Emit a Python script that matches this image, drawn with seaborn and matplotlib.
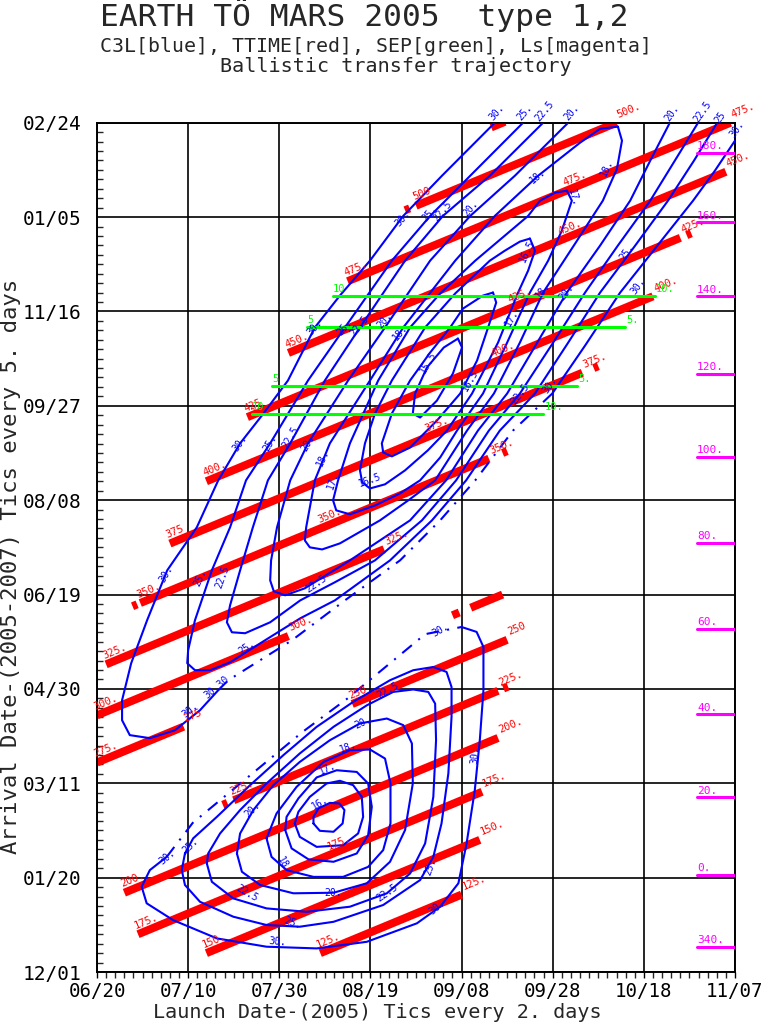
import numpy as np
import pandas as pd
import matplotlib
matplotlib.use("Agg")
import matplotlib.pyplot as plt
from matplotlib.ticker import MultipleLocator
import seaborn as sns

# ---------------- data (days since launch origin / arrival origin) ----------------
launch_origin = pd.Timestamp("2005-06-20")
arrival_origin = pd.Timestamp("2005-12-01")
offset = (arrival_origin - launch_origin).days

x_ticks = list(range(0, 141, 20))
y_ticks = list(range(0, 451, 50))
x_ticklabels = [(launch_origin + pd.Timedelta(days=d)).strftime("%m/%d") for d in x_ticks]
y_ticklabels = [(arrival_origin + pd.Timedelta(days=d)).strftime("%m/%d") for d in y_ticks]

# TTIME (time of flight, days) segments
tof_days = [125, 150, 175, 200, 225, 225, 225, 250, 275, 275, 275, 300, 325, 350, 350, 350,
            375, 375, 400, 425, 425, 450, 475, 500, 500, 525]
tof_launch_start = [49, 24, 9, 6, 30, 27.6, 89.2, 56, 78, 82, 0, 0, 2, 9.5, 7.8, 89.0,
                    16, 109.0, 24, 33, 129.4, 42, 55, 70, 67.6, 86.5]
tof_launch_end = [80, 84, 84.5, 88, 88, 28.6, 90.2, 90, 79.5, 89, 19, 42, 63, 86, 8.8, 90.0,
                  106.5, 110.0, 122, 128, 130.4, 138, 139, 114, 68.6, 89.5]
tof_start_label = ["125.", "150.", "175.", "200.", "225.", "", "", "250", "", "", "275.", "300.", "325.", "350.", "", "",
                   "375", "", "400.", "425", "", "450.", "475.", "500", "", ""]
tof_end_label = ["125.", "150.", "175.", "200.", "225.", "", "", "250", "", "", "275", "300.", "325.", "350.", "", "",
                 "375.", "", "400.", "425.", "", "450.", "475.", "500.", "", ""]
tof_mid_value = [350, 375, 400, 425, 450, 475, 175]
tof_mid_launch = [49, 72.4, 87, 90.6, 101.6, 102.7, 51]

# SEP (green)
sep_arrival = [358.0, 341.6, 310.7, 295.8]
sep_launch_start = [51.8, 46.1, 38.4, 34.0]
sep_launch_end = [122.4, 115.9, 105.3, 97.9]
sep_label = ["10", "5", "5", "10"]

# Ls of Mars at arrival (magenta)
ls_value = [180, 160, 140, 120, 100, 80, 60, 40, 20, 0, 340]
ls_arrival = [434.0, 397.2, 358.0, 317.0, 272.8, 227.5, 182.0, 136.6, 92.6, 51.4, 13.2]

# C3L contours, upper (type 2) family
up30a_x = [87.3, 75.7, 67.2, 59.9, 53.3, 47.8, 41.9, 36.2, 31.4, 26.6, 21.9, 15.4, 11.0, 7.5, 5.5, 5.5, 7.2, 11.6, 17.1, 22.6, 26.6]
up30a_y = [450, 421.9, 400.6, 376.9, 358.4, 341.5, 313.4, 294.9, 280.1, 260.5, 235.6, 212.8, 186.4, 163.6, 144.0, 133.4, 125.5, 123.9, 128.1, 138.7, 149.3]
up30b_x = [26.6, 28.8, 42.8, 54.4, 66.5, 75.3, 83.0, 91.3, 99.9]
up30b_y = [149.3, 154.6, 175.8, 196.9, 218.1, 239.3, 260.5, 286.9, 306.5]
up30c_x = [99.9, 107.1, 114.8, 130.8, 135.6, 140.0]
up30c_y = [306.5, 331.9, 360.0, 408.7, 424.6, 440.5]

up25_x = [93.5, 81.9, 73.1, 64.7, 54.4, 46.3, 38.0, 32.7, 29.2, 25.2, 21.5, 20.0, 19.8, 21.5, 24.8, 29.2, 36.9, 44.6, 52.2,
          64.3, 73.5, 81.0, 88.4, 96.1, 103.4, 110.4, 118.1, 125.3, 131.0, 136.1]
up25_y = [450, 421.9, 400.6, 376.9, 341.5, 313.4, 280.1, 260.5, 235.6, 212.8, 186.4, 170.5, 163.6, 159.9, 159.9, 164.1, 175.8,
          187.4, 196.9, 218.1, 239.3, 260.5, 286.9, 306.5, 333.5, 360.0, 384.9, 408.7, 429.9, 450]

up225_x = [97.9, 86.2, 75.9, 67.6, 57.7, 50.0, 42.4, 37.5, 34.2, 31.4, 29.2, 28.5, 29.6, 32.5, 38.0, 44.6, 52.2, 61.0, 71.3,
           78.8, 86.0, 92.8, 100.1, 107.1, 114.3, 121.4, 126.8, 131.9]
up225_y = [450, 421.9, 400.6, 376.9, 341.5, 313.4, 280.1, 260.5, 235.6, 212.8, 194.3, 185.3, 180.0, 179.5, 185.3, 196.9, 206.5,
           218.1, 239.3, 260.5, 286.9, 306.5, 333.5, 360.0, 384.9, 408.7, 429.9, 450]

up20_x = [103.4, 91.7, 81.9, 73.1, 63.2, 55.1, 46.3, 42.4, 39.5, 38.2, 38.0, 38.8, 41.3, 45.6, 55.5, 68.7, 76.6, 83.6, 90.0,
          96.6, 103.1, 110.4, 117.0, 121.4, 125.7]
up20_y = [450, 421.9, 400.6, 376.9, 341.5, 313.4, 280.1, 260.5, 235.6, 218.1, 207.5, 201.7, 199.6, 203.3, 218.1, 239.3, 260.5,
          286.9, 306.5, 333.5, 360.0, 384.9, 408.7, 429.9, 450]

up18_x = [114.3, 110.4, 106.0, 96.8, 87.3, 78.6, 67.2, 59.9, 51.1, 47.8, 45.9, 45.6, 46.7, 49.4, 53.3, 62.1, 68.3, 74.2, 81.2,
          87.1, 92.8, 97.9, 104.9, 111.0, 114.1, 115.2]
up18_y = [447.9, 446.8, 439.4, 421.9, 400.6, 376.9, 341.5, 313.4, 280.1, 260.5, 235.6, 228.7, 225.0, 223.9, 227.1, 239.3, 249.9,
          260.5, 286.9, 306.5, 333.5, 360.0, 385.9, 408.7, 425.6, 440.5]

up17_x = [103.1, 100.5, 97.2, 94.6, 83.0, 75.3, 68.7, 61.7, 55.5, 52.9, 51.8, 52.5, 55.5, 61.0, 66.5, 70.9, 75.3, 79.0, 84.7,
          90.0, 95.0, 99.0, 102.0, 104.2]
up17_y = [414.0, 412.9, 408.7, 400.6, 376.9, 359.5, 341.5, 313.4, 280.1, 260.5, 249.9, 244.6, 242.5, 247.2, 253.6, 260.5, 272.6,
          286.9, 306.5, 333.5, 360.0, 376.9, 392.8, 408.7]

up165_x = [95.0, 92.8, 89.5, 86.2, 78.6, 72.0, 64.7, 61.0, 58.8, 57.7, 58.2, 59.9, 63.2, 67.6, 72.6, 76.8, 82.3, 88.0, 92.4, 94.6, 96.1]
up165_y = [388.6, 387.0, 382.2, 376.9, 359.5, 341.5, 313.4, 295.9, 280.1, 265.8, 259.4, 256.2, 258.4, 265.8, 276.4, 286.9, 306.5,
           333.5, 360.0, 371.6, 382.2]

up16_x = [86.9, 84.7, 80.3, 77.5, 73.1, 68.7, 64.7, 62.5, 62.8, 64.7, 68.7, 74.6, 79.7, 83.4, 85.6, 87.6]
up16_y = [360.0, 358.4, 351.5, 341.5, 328.2, 313.4, 295.9, 280.1, 275.3, 273.2, 277.9, 292.2, 306.5, 324.0, 339.9, 354.7]

up155_x = [79.2, 76.1, 72.4, 69.8, 69.3, 70.9, 74.6, 78.1, 80.1]
up155_y = [335.6, 330.9, 320.3, 306.5, 295.9, 293.8, 302.8, 317.1, 330.9]

# C3L contours, lower (type 1) family
lo30a_x = [80.0, 83.3, 84.8, 84.8, 84.0, 82.9, 81.1, 79.3, 75.3, 70.2, 59.2, 48.2, 37.2, 26.3, 16.7, 10.9, 9.8, 11.6, 15.3]
lo30a_y = [182.8, 180.2, 172.2, 149.3, 122.8, 96.3, 68.1, 47.0, 34.6, 25.8, 16.0, 12.5, 13.4, 17.8, 27.5, 36.4, 45.2, 54.0, 61.0]
lo30b_x = [15.3, 21.0, 29.0, 36.5, 45.0, 55.0, 64.0, 72.0, 80.0]
lo30b_y = [61.0, 79.0, 95.0, 110.0, 127.0, 145.0, 163.0, 179.0, 182.8]

lo25_x = [19.3, 18.6, 19.3, 22.6, 29.9, 37.2, 44.5, 51.9, 62.8, 70.9, 73.8, 75.6, 77.1, 77.8, 77.8, 76.7, 73.8, 69.4, 64.3,
          56.2, 48.2, 40.9, 33.6, 26.3, 21.1]
lo25_y = [62.8, 54.0, 46.1, 37.2, 29.3, 24.9, 24.0, 26.6, 35.5, 48.7, 61.0, 78.7, 105.2, 135.2, 151.0, 159.0, 161.6, 159.9,
          154.6, 143.1, 129.9, 114.9, 99.0, 82.2, 70.8]

lo225_x = [24.1, 25.2, 29.9, 37.2, 46.0, 55.5, 63.6, 68.7, 72.0, 73.8, 74.4, 74.2, 72.7, 69.4, 65.0, 59.2, 51.9, 44.5, 37.2,
           31.4, 27.0, 24.4]
lo225_y = [57.5, 47.8, 39.0, 33.7, 31.9, 34.6, 41.7, 52.2, 68.1, 92.8, 122.8, 142.2, 148.4, 149.7, 148.4, 141.3, 129.9, 115.8,
           99.9, 85.8, 73.4, 62.8]

lo20_x = [30.7, 31.8, 35.8, 43.1, 51.9, 59.2, 64.3, 67.6, 69.3, 69.1, 67.2, 63.6, 57.7, 51.1, 44.5, 38.7, 34.3, 31.4]
lo20_y = [62.8, 53.1, 46.1, 41.7, 42.0, 47.0, 58.4, 75.2, 99.9, 121.1, 130.8, 134.3, 131.7, 122.8, 111.3, 99.0, 85.8, 73.4]

lo18_x = [37.2, 38.3, 41.6, 47.5, 54.0, 59.5, 62.8, 64.4, 64.4, 63.2, 59.9, 55.5, 49.7, 43.8, 39.4]
lo18_y = [70.8, 61.0, 54.0, 50.4, 50.4, 55.7, 64.6, 78.7, 99.9, 113.1, 117.9, 117.5, 111.3, 98.1, 84.0]

lo17_x = [41.3, 42.7, 46.4, 51.9, 57.0, 59.5, 60.3, 59.5, 57.0, 52.6, 48.2, 44.2, 41.6]
lo17_y = [75.2, 65.5, 59.7, 58.4, 62.8, 72.5, 87.5, 99.9, 106.0, 106.9, 103.1, 92.0, 82.2]

lo165_x = [43.4, 44.5, 48.2, 54.0, 57.3, 58.4, 58.1, 56.2, 53.3, 50.4, 46.7, 44.2]
lo165_y = [78.7, 71.6, 66.3, 67.2, 73.4, 82.2, 92.8, 99.0, 101.3, 99.9, 92.8, 84.9]

lo16_x = [47.5, 48.9, 51.9, 53.9, 54.3, 53.2, 51.1, 48.6, 47.5]
lo16_y = [78.7, 74.8, 74.3, 78.7, 85.8, 89.3, 89.6, 86.7, 82.2]

# C3L contour labels
c3_text = ["30.", "25.", "22.5", "20.", "20.", "22.5", "25", "30.",
           "18.", "17.", "16.5", "18.", "20.", "17.", "16.5", "15.5", "22.5", "30.", "25.", "30.",
           "30.", "25.", "22.5", "20.", "18.",
           "30.", "25.", "22.5", "20.", "18.",
           "30.", "25.", "22.5", "20.", "18.", "17.", "16.5",
           "30.", "25.", "22.5",
           "30.", "30.30", "25.", "22.5",
           "30.", "25.", "30.", "25.", "22.5", "22.5", "20.", "20.", "20.", "18", "18.", "17.", "16.",
           "25.", "30.", "30.", "22.5", "30."]
c3_launch = [87.8, 93.9, 98.3, 104.2, 126.2, 132.8, 136.7, 140.4,
             111.9, 104.5, 94.4, 97.9, 103.1, 91.1, 81.9, 72.6, 92.8, 99.4, 116.3, 118.7,
             67.1, 73.1, 75.9, 81.9, 96.8,
             47.8, 54.4, 57.7, 63.2, 66.5,
             31.4, 38.0, 42.4, 46.3, 49.6, 51.8, 59.9,
             15.1, 22.6, 27.6,
             20.4, 26.3, 32.9, 48.1,
             15.4, 20.4, 39.5, 43.0, 32.9, 63.6, 51.8, 34.2, 58.4, 40.6, 55.1, 50.5, 48.9,
             73.1, 82.9, 74.6, 63.9, 75.3]
c3_arrival = [455.3, 455.3, 456.0, 455.3, 455.3, 456.0, 453.0, 446.8,
              426.2, 410.3, 382.2, 361.1, 360.0, 346.8, 313.4, 322.9, 306.5, 310.8, 381.2, 363.7,
              399.2, 401.8, 403.4, 404.5, 421.9,
              341.5, 341.5, 342.5, 345.2, 338.8,
              280.1, 280.1, 283.2, 280.1, 272.6, 260.5, 260.5,
              211.2, 209.1, 209.1,
              138.7, 150.9, 172.1, 205.9,
              60.9, 67.2, 15.9, 25.9, 41.8, 41.8, 41.8, 85.8, 132.4, 58.2, 119.1, 108.0, 89.5,
              55.6, 114.9, 34.4, 149.3, 181.1]
c3_rot = [50, 50, 50, 50, 55, 55, 55, 55,
          65, -75, 65, 52, 52, 60, 60, 60, 52, 55, 55, 55,
          50, 50, 50, 50, 40,
          50, 50, 50, 50, 50,
          55, 60, 60, 60, 65, 70, 20,
          60, 65, 70,
          40, 40, 35, 35,
          40, 45, -5, -20, -30, 35, 0, 45, 25, -60, 20, 25, 30,
          70, 85, 40, 30, 30]

# ---------------- figure ----------------
sns.set_style("white")
plt.rcParams["font.family"] = ["DejaVu Sans Mono", "DejaVu Sans"]

fig = plt.figure(figsize=(7.67, 10.24), dpi=100)
ax = fig.add_axes([97 / 767, 1 - 972 / 1024, (735 - 97) / 767, (972 - 122.7) / 1024])
ax.set_xlim(0, 140)
ax.set_ylim(0, 450)

BLUE = "#0000ff"
RED = "#ff0000"
GREEN = "#00ff00"
MAG = "#ff00ff"


def trace(xs, ys, color=BLUE, lw=1.5, ls="-", closed=False, z=3):
    xs = list(xs)
    ys = list(ys)
    if closed:
        xs.append(xs[0])
        ys.append(ys[0])
    sns.lineplot(x=xs, y=ys, sort=False, estimator=None, color=color, lw=lw,
                 linestyle=ls, ax=ax, legend=False, zorder=z)


# red TTIME lines
rows = []
for i, (t, a, b) in enumerate(zip(tof_days, tof_launch_start, tof_launch_end)):
    for xv in (a, b):
        rows.append(dict(seg=i, launch=xv, arrival=xv + t - offset))
red_df = pd.DataFrame(rows)
sns.lineplot(data=red_df, x="launch", y="arrival", units="seg", estimator=None, sort=False,
             color=RED, lw=5.8, ax=ax, legend=False, zorder=2, solid_capstyle="butt")
for t, a, b, sl, el in zip(tof_days, tof_launch_start, tof_launch_end, tof_start_label, tof_end_label):
    if sl:
        ax.annotate(sl, (a, a + t - offset), xytext=(-1, 2.5), textcoords="offset points",
                    rotation=22.5, rotation_mode="anchor", ha="left", va="bottom",
                    color=RED, fontsize=7.5, annotation_clip=False, zorder=6)
    if el:
        ax.annotate(el, (b, b + t - offset), xytext=(2, 2), textcoords="offset points",
                    rotation=22.5, rotation_mode="anchor", ha="left", va="bottom",
                    color=RED, fontsize=7.5, annotation_clip=False, zorder=6)
for t, a in zip(tof_mid_value, tof_mid_launch):
    ax.annotate(f"{t}.", (a, a + t - offset), xytext=(0, 2.5), textcoords="offset points",
                rotation=22.5, rotation_mode="anchor", ha="left", va="bottom",
                color=RED, fontsize=7.5, zorder=6)

# blue C3L contours
closed_loops = [(up18_x, up18_y), (up17_x, up17_y), (up165_x, up165_y), (up16_x, up16_y), (up155_x, up155_y),
                (lo25_x, lo25_y), (lo225_x, lo225_y), (lo20_x, lo20_y), (lo18_x, lo18_y), (lo17_x, lo17_y),
                (lo165_x, lo165_y), (lo16_x, lo16_y)]
for xs, ys in closed_loops:
    trace(xs, ys, closed=True)
for xs, ys in [(up30a_x, up30a_y), (up30c_x, up30c_y), (up25_x, up25_y), (up225_x, up225_y),
               (up20_x, up20_y), (lo30a_x, lo30a_y)]:
    trace(xs, ys)
for xs, ys in [(up30b_x, up30b_y), (lo30b_x, lo30b_y)]:
    trace(xs, ys, ls=(0, (6, 4, 1, 4)))

for s, xv, yv, r in zip(c3_text, c3_launch, c3_arrival, c3_rot):
    ax.text(xv, yv, s, color=BLUE, fontsize=7, rotation=r, ha="center", va="center",
            rotation_mode="anchor", clip_on=False, zorder=6)

# green SEP lines
grows = []
for i, (yv, a, b) in enumerate(zip(sep_arrival, sep_launch_start, sep_launch_end)):
    grows.append(dict(seg=i, launch=a, arrival=yv))
    grows.append(dict(seg=i, launch=b, arrival=yv))
green_df = pd.DataFrame(grows)
sns.lineplot(data=green_df, x="launch", y="arrival", units="seg", estimator=None, sort=False,
             color=GREEN, lw=2.2, ax=ax, legend=False, zorder=5)
for yv, a, b, s in zip(sep_arrival, sep_launch_start, sep_launch_end, sep_label):
    ax.annotate(s, (a, yv), xytext=(0, 1.5), textcoords="offset points", ha="left", va="bottom",
                color=GREEN, fontsize=7.5, zorder=6)
    ax.annotate(s + ".", (b, yv), xytext=(1, 1.5), textcoords="offset points", ha="left", va="bottom",
                color=GREEN, fontsize=7.5, zorder=6)

# magenta Ls markers
mrows = []
for i, yv in enumerate(ls_arrival):
    mrows.append(dict(seg=i, launch=131.7, arrival=yv))
    mrows.append(dict(seg=i, launch=140.0, arrival=yv))
mag_df = pd.DataFrame(mrows)
sns.lineplot(data=mag_df, x="launch", y="arrival", units="seg", estimator=None, sort=False,
             color=MAG, lw=2.2, ax=ax, legend=False, zorder=5)
for v, yv in zip(ls_value, ls_arrival):
    ax.annotate(f"{v}.", (131.7, yv), xytext=(0, 1.2), textcoords="offset points", ha="left", va="bottom",
                color=MAG, fontsize=8, zorder=6)

# axes, grid, ticks
ax.set_xticks(x_ticks)
ax.set_xticklabels(x_ticklabels)
ax.set_yticks(y_ticks)
ax.set_yticklabels(y_ticklabels)
ax.xaxis.set_minor_locator(MultipleLocator(2))
ax.yaxis.set_minor_locator(MultipleLocator(5))
ax.tick_params(axis="x", which="major", direction="out", length=4, width=1, pad=3, labelsize=13.8, colors="black")
ax.tick_params(axis="x", which="minor", direction="out", length=4, width=1)
ax.tick_params(axis="y", which="major", direction="in", length=0, pad=11, labelsize=14, colors="black")
ax.tick_params(axis="y", which="minor", direction="in", length=4, width=1)
ax.xaxis.set_ticks_position("bottom")
ax.yaxis.set_ticks_position("left")
ax.grid(True, which="major", color="black", lw=1.2, zorder=1)
ax.set_axisbelow(True)
for sp in ax.spines.values():
    sp.set_color("black")
    sp.set_linewidth(1.4)
    sp.set_visible(True)
ax.set_xlabel("")
ax.set_ylabel("")

# titles and axis labels
fig.text(364 / 767, 1 - 15 / 1024, "EARTH TÖ MARS 2005  type 1,2", ha="center", va="center", fontsize=22.5)
fig.text(376 / 767, 1 - 46 / 1024, "C3L[blue], TTIME[red], SEP[green], Ls[magenta]", ha="center", va="center",
         fontsize=14.3)
fig.text(396 / 767, 1 - 67 / 1024, "Ballistic transfer trajectory", ha="center", va="center", fontsize=14.5)
fig.text(377 / 767, 1 - 1012.5 / 1024, "Launch Date-(2005) Tics every 2. days", ha="center", va="center",
         fontsize=14.5)
fig.text(11 / 767, 1 - 566 / 1024, "Arrival Date-(2005-2007) Tics every 5. days", ha="center", va="center",
         rotation=90, fontsize=16)

fig.savefig("out.png", dpi=100)
